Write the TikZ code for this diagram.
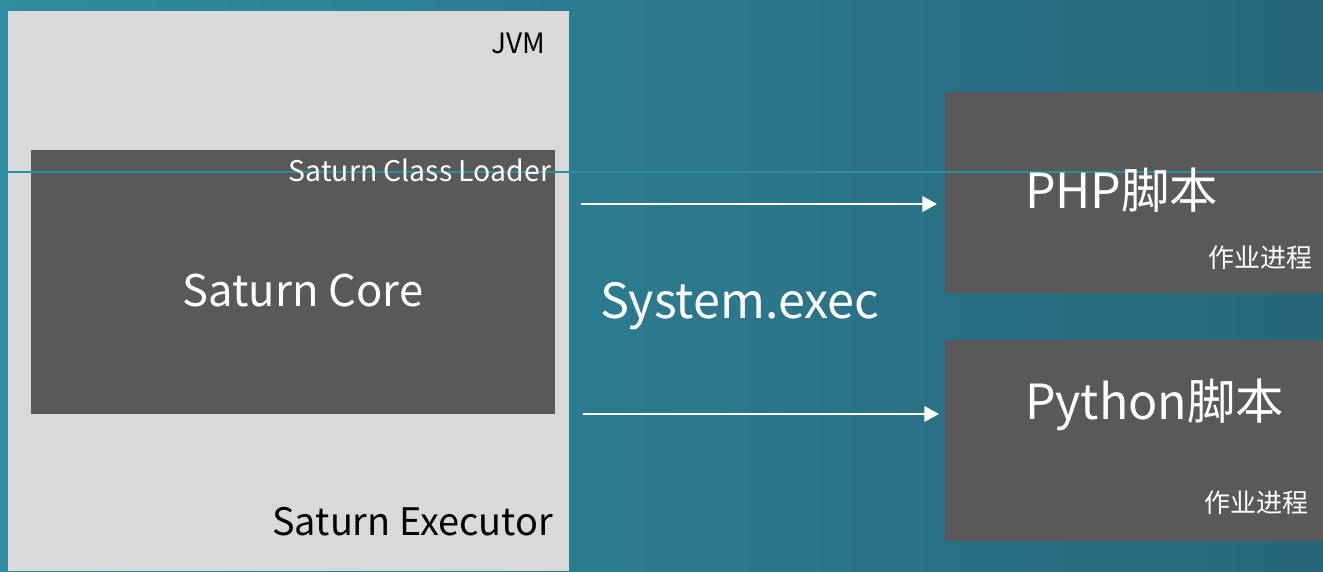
\documentclass[tikz,border=0pt]{standalone}
\usepackage{fontspec}
\setmainfont{Noto Sans CJK SC}
\usetikzlibrary{arrows.meta,positioning,calc}
\definecolor{bgleft}{HTML}{2E8CA0}
\definecolor{bgright}{HTML}{28667A}
\definecolor{jvmgray}{HTML}{D9D9D9}
\definecolor{boxgray}{HTML}{595959}
\tikzset{
  panel/.style={draw=none, inner sep=0pt, outer sep=0pt},
  jvmbox/.style={panel, fill=jvmgray},
  darkbox/.style={panel, fill=boxgray},
  label/.style={inner sep=0pt, outer sep=0pt},
  line/.style={-{Triangle[length=11pt,width=11.5pt]}, line width=2pt, white}
}
\begin{document}
\begin{tikzpicture}[x=0.75pt, y=-0.75pt]
  \useasboundingbox (0,0) rectangle (1323,571);
  \shade[left color=bgleft, right color=bgright] (0,0) rectangle (1323,571);

  \node[jvmbox, minimum width=561*0.75pt, minimum height=560*0.75pt] (jvm) at (288.5,291) {};
  \node[darkbox, minimum width=524*0.75pt, minimum height=264*0.75pt] (core) at (293,282) {};
  \node[darkbox, minimum width=378*0.75pt, minimum height=201*0.75pt] (php) at (1134,192.5) {};
  \node[darkbox, minimum width=378*0.75pt, minimum height=201*0.75pt] (python) at (1134,440.5) {};

  % thin guide line across the page
  \draw[bgleft, line width=0.8pt] (0,172) -- (1323,172);

  \node[label, anchor=base east, font=\fontsize{21}{24}\selectfont] (jvmtext) at (545,53) {JVM};
  \node[label, anchor=base east, white, font=\fontsize{21.3}{24}\selectfont] (loader) at (551,181) {Saturn Class Loader};
  \node[label, white, font=\fontsize{32.7}{38}\selectfont] (coretext) at (303,291) {Saturn Core};
  \node[label, anchor=base east, font=\fontsize{28.4}{32}\selectfont] (executor) at (553,535) {Saturn Executor};
  \node[label, anchor=base west, white, font=\fontsize{36.4}{40}\selectfont] (exec) at (600,318) {System.exec};

  \node[label, anchor=base west, white, font=\fontsize{36.3}{40}\selectfont] (phptext) at (1025,208) {PHP脚本};
  \node[label, anchor=east, white, font=\fontsize{19.5}{22}\selectfont] (phpjob) at (1312,258) {作业进程};
  \node[label, anchor=base west, white, font=\fontsize{36.3}{40}\selectfont] (pytext) at (1025,419) {Python脚本};
  \node[label, anchor=east, white, font=\fontsize{19.5}{22}\selectfont] (pyjob) at (1308,503) {作业进程};

  \coordinate (upper) at (0,204);
  \coordinate (lower) at (0,414);
  \draw[line, shorten <=12*0.75pt, shorten >=8*0.75pt] (jvm.east |- upper) -- (php.west |- upper);
  \draw[line, shorten <=14*0.75pt, shorten >=6*0.75pt] (jvm.east |- lower) -- (python.west |- lower);
\end{tikzpicture}
\end{document}
